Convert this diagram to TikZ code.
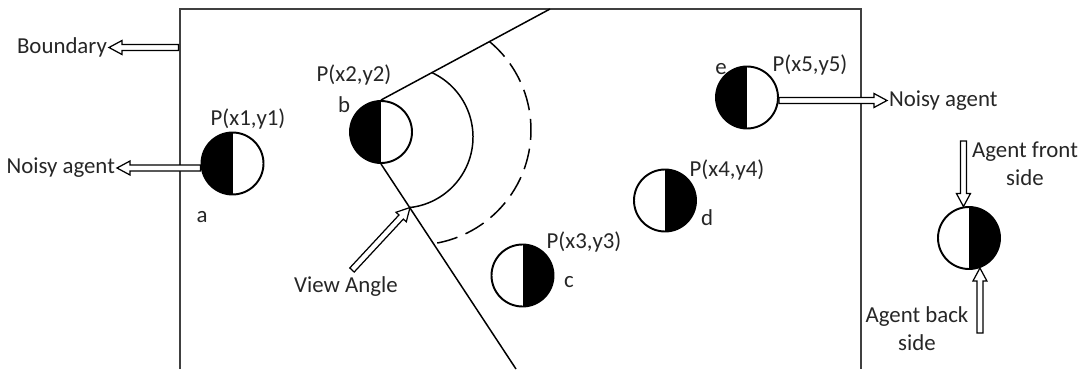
\documentclass[tikz,border=0pt]{standalone}
\usepackage{fontspec}
\setmainfont{Carlito}
\usetikzlibrary{calc}

\newcommand{\lblsize}{\fontsize{13}{16}\selectfont}

% hollow (outlined) arrow from #1 to #2
\newcommand{\hollowarrow}[2]{%
  \path (#1) coordinate (ha-s) (#2) coordinate (ha-e);
  \coordinate (ha-n) at ($(ha-e)!0.26cm!(ha-s)$);
  \draw[hollow]
    ($(ha-s)!0.06cm!90:(ha-e)$) -- ($(ha-n)!0.06cm!90:(ha-e)$)
    -- ($(ha-n)!0.14cm!90:(ha-e)$) -- (ha-e)
    -- ($(ha-n)!0.14cm!-90:(ha-e)$) -- ($(ha-n)!0.06cm!-90:(ha-e)$)
    -- ($(ha-s)!0.06cm!-90:(ha-e)$) -- cycle;}

\tikzset{
  agent/.style={circle, draw, line width=1.1pt, minimum size=1.24cm, inner sep=0pt},
  facesright/.style={agent, path picture={\fill (path picture bounding box.south west) rectangle (path picture bounding box.north);}},
  facesleft/.style={agent, path picture={\fill (path picture bounding box.south) rectangle (path picture bounding box.north east);}},
  lbl/.style={font=\lblsize, text=black!85, inner sep=1pt, align=center},
  wall/.style={draw=black!75, line width=1.1pt},
  viewline/.style={line width=0.85pt},
  hollow/.style={draw, fill=white, line width=0.7pt, line join=miter}
}

\begin{document}
\begin{tikzpicture}

\useasboundingbox (0,0) rectangle (21.78,7.38);

% Boundary of the area
\draw[wall] (3.6,0) -- (3.6,7.2) -- (17.22,7.2) -- (17.22,0);

% Agents
\node[facesright] (a) at (4.65,4.11) {};
\node[facesright] (b) at (7.62,4.74) {};
\node[facesleft] (c) at (10.45,1.87) {};
\node[facesleft] (d) at (13.30,3.37) {};
\node[facesright] (e) at (14.94,5.43) {};
\node[facesleft] (legend) at (19.38,2.62) {};

% Positions and names
\node[lbl] (pa) at (4.96,5.00) {P(x1,y1)};
\node[lbl] (na) at (4.04,3.04) {a};
\node[lbl] (pb) at (7.08,5.88) {P(x2,y2)};
\node[lbl] (nb) at (6.88,5.28) {b};
\node[lbl] (pc) at (11.68,2.54) {P(x3,y3)};
\node[lbl] (nc) at (11.38,1.74) {c};
\node[lbl] (pd) at (14.54,3.98) {P(x4,y4)};
\node[lbl] (nd) at (14.14,3.02) {d};
\node[lbl] (ne) at (14.42,6.00) {e};
\node[lbl] (pe) at (16.20,6.08) {P(x5,y5)};

% View of agent b
\coordinate (viewtop) at (11.0,7.2);
\coordinate (viewbottom) at (10.32,0);
\draw[viewline] (b.north) -- (viewtop);
\draw[viewline] (b.south) -- (viewbottom);
\draw[viewline] ([shift={(64.8:1.42)}]8.04,4.64) arc (64.8:-83.6:1.42);
\draw[viewline, dash pattern=on 12pt off 5pt]
  ([shift={(50.2:2.30)}]8.32,4.78) arc (50.2:-81.2:2.30);

% Callouts
\node[lbl, anchor=east] (boundary) at (2.18,6.43) {Boundary};
\node[lbl, anchor=east] (noisyl) at (2.34,4.02) {Noisy agent};
\node[lbl, anchor=west] (noisyr) at (17.74,5.37) {Noisy agent};
\node[lbl] (viewangle) at (6.92,1.64) {View Angle};
\node[lbl] (front) at (20.50,4.10) {Agent front\\side};
\node[lbl] (back) at (18.34,0.80) {Agent back\\side};

\coordinate (wallpt) at (3.57,6.43);
\coordinate (viewtail) at (7.04,1.98);
\coordinate (viewtip) at (8.20,3.23);
\coordinate (fronttail) at (19.27,4.56);
\coordinate (backtail) at (19.60,0.72);

\hollowarrow{wallpt}{boundary.east}
\hollowarrow{a.west |- noisyl.east}{noisyl.east}
\hollowarrow{e.east |- noisyr.west}{noisyr.west}
\hollowarrow{viewtail}{viewtip}
\hollowarrow{fronttail}{legend.100}
\hollowarrow{backtail}{legend.-70}

\end{tikzpicture}
\end{document}
